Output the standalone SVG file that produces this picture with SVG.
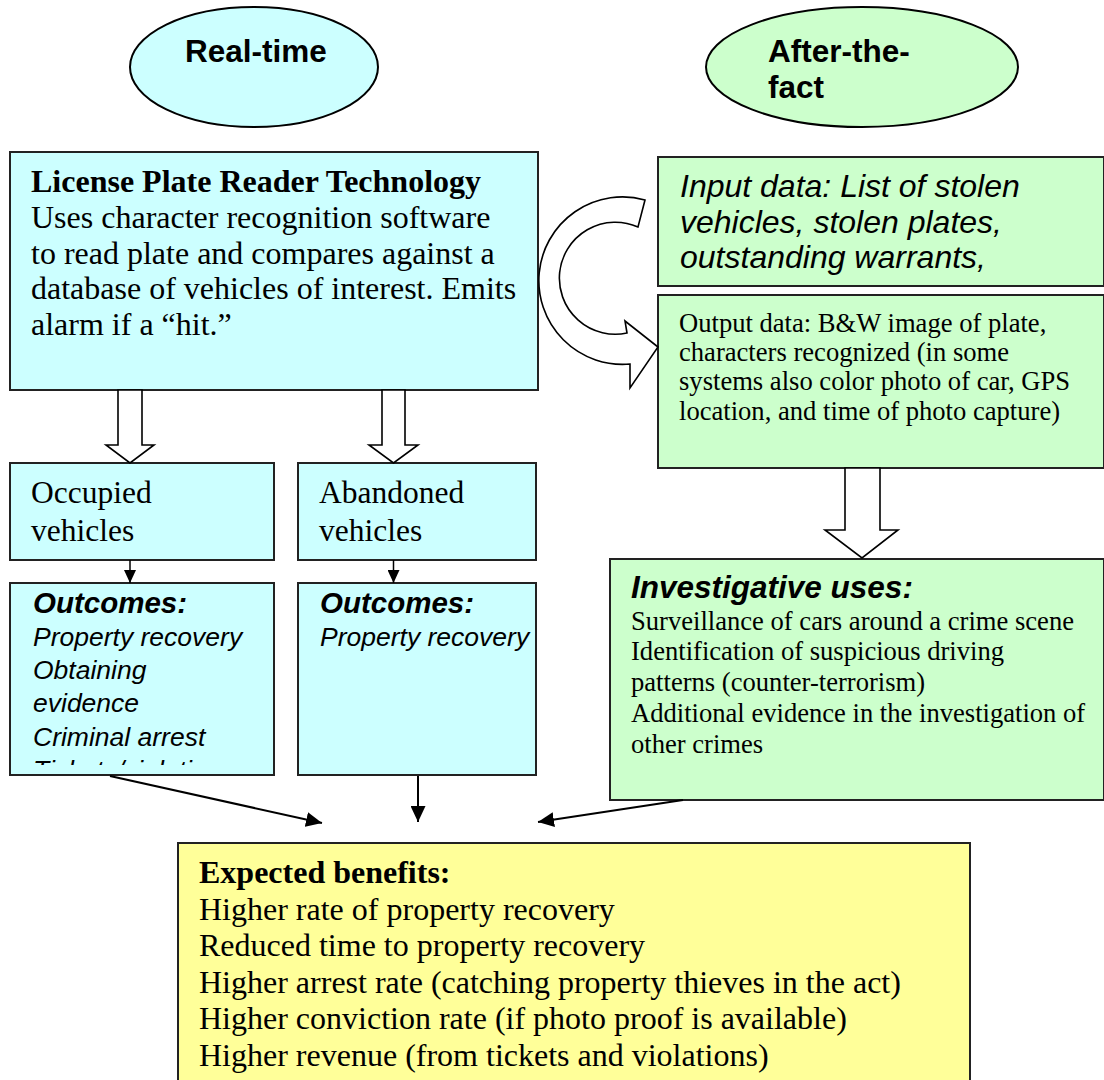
<svg xmlns="http://www.w3.org/2000/svg" width="1104" height="1080" viewBox="0 0 1104 1080">
<style>
.box{stroke:#222;stroke-width:2}
.cyan{fill:#CCFFFF}
.green{fill:#CCFFCC}
.yellow{fill:#FFFF99}
.sans{font-family:"Liberation Sans",Arial,sans-serif;fill:#000}
.serif{font-family:"Liberation Serif","Times New Roman",serif;fill:#000}
.hb{font-weight:bold;font-size:31.5px}
.ser32{font-size:32px}
.ser26{font-size:26.6px}
.ital26{font-style:italic;font-size:26.5px}
.bi{font-style:italic;font-weight:bold}
.line{stroke:#000;stroke-width:2;fill:none}
.block{fill:#fff;stroke:#000;stroke-width:1.6}
</style>
<defs>
<marker id="ah" viewBox="0 0 10 10" refX="10" refY="5" markerWidth="16" markerHeight="15" markerUnits="userSpaceOnUse" orient="auto" preserveAspectRatio="none">
<path d="M0,0 L10,5 L0,10 Z" fill="#000"/>
</marker>
<marker id="ahs" viewBox="0 0 10 10" refX="10" refY="5" markerWidth="13" markerHeight="12" markerUnits="userSpaceOnUse" orient="auto" preserveAspectRatio="none">
<path d="M0,0 L10,5 L0,10 Z" fill="#000"/>
</marker>
<clipPath id="clipIn"><rect x="658" y="157" width="446" height="119"/></clipPath>
<clipPath id="clipOut"><rect x="10" y="583" width="264" height="182"/></clipPath>
</defs>

<g id="realtime">
<ellipse cx="254" cy="67" rx="124" ry="60" class="cyan" stroke="#000" stroke-width="2"/>
<text x="185" y="62" class="sans hb">Real-time</text>
</g>

<g id="afterthefact">
<ellipse cx="862" cy="67" rx="156" ry="60" class="green" stroke="#000" stroke-width="2"/>
<text x="768" y="62" class="sans hb">After-the-</text>
<text x="768" y="98" class="sans hb">fact</text>
</g>

<g id="lpr">
<rect x="10" y="152" width="528" height="238" class="box cyan"/>
<text class="serif ser32"><tspan x="31" y="192" font-weight="bold">License Plate Reader Technology</tspan><tspan x="31" y="228">Uses character recognition software</tspan><tspan x="31" y="264">to read plate and compares against a</tspan><tspan x="31" y="299">database of vehicles of interest. Emits</tspan><tspan x="31" y="335">alarm if a “hit.”</tspan></text>
</g>

<g id="input">
<rect x="658" y="157" width="446" height="129" class="box green"/>
<g clip-path="url(#clipIn)">
<text class="sans" font-style="italic" font-size="32px"><tspan x="680" y="197">Input data: List of stolen</tspan><tspan x="680" y="233">vehicles, stolen plates,</tspan><tspan x="680" y="268">outstanding warrants,</tspan></text>
</g>
</g>

<g id="output">
<rect x="658" y="295" width="446" height="173" class="box green"/>
<text class="serif ser26"><tspan x="679" y="332">Output data: B&amp;W image of plate,</tspan><tspan x="679" y="361">characters recognized (in some</tspan><tspan x="679" y="390">systems also color photo of car, GPS</tspan><tspan x="679" y="420">location, and time of photo capture)</tspan></text>
</g>

<g id="occupied">
<rect x="10" y="463" width="264" height="97" class="box cyan"/>
<text class="serif" font-size="31.5px"><tspan x="31" y="503">Occupied</tspan><tspan x="31" y="541">vehicles</tspan></text>
</g>

<g id="abandoned">
<rect x="298" y="463" width="238" height="97" class="box cyan"/>
<text class="serif" font-size="31.5px"><tspan x="319" y="503">Abandoned</tspan><tspan x="319" y="541">vehicles</tspan></text>
</g>

<g id="outcomes-occupied">
<rect x="10" y="583" width="264" height="192" class="box cyan"/>
<g clip-path="url(#clipOut)">
<text x="33" y="613" class="sans bi" font-size="29.5px">Outcomes:</text>
<text class="sans ital26"><tspan x="33" y="646">Property recovery</tspan><tspan x="33" y="679">Obtaining</tspan><tspan x="33" y="712">evidence</tspan><tspan x="33" y="746">Criminal arrest</tspan><tspan x="33" y="779">Tickets/violations</tspan></text>
</g>
</g>

<g id="outcomes-abandoned">
<rect x="298" y="583" width="238" height="192" class="box cyan"/>
<text x="320" y="613" class="sans bi" font-size="29.5px">Outcomes:</text>
<text x="320" y="646" class="sans ital26">Property recovery</text>
</g>

<g id="investigative">
<rect x="610" y="559" width="494" height="241" class="box green"/>
<text x="631" y="598" class="sans bi" font-size="31.5px">Investigative uses:</text>
<text class="serif ser26"><tspan x="631" y="630">Surveillance of cars around a crime scene</tspan><tspan x="631" y="660">Identification of suspicious driving</tspan><tspan x="631" y="691">patterns (counter-terrorism)</tspan><tspan x="631" y="722">Additional evidence in the investigation of</tspan><tspan x="631" y="753">other crimes</tspan></text>
</g>

<g id="benefits">
<rect x="178" y="843" width="792" height="250" class="box yellow"/>
<text class="serif ser32"><tspan x="199" y="883" font-weight="bold">Expected benefits:</tspan><tspan x="199" y="920">Higher rate of property recovery</tspan><tspan x="199" y="956">Reduced time to property recovery</tspan><tspan x="199" y="993">Higher arrest rate (catching property thieves in the act)</tspan><tspan x="199" y="1029">Higher conviction rate (if photo proof is available)</tspan><tspan x="199" y="1066">Higher revenue (from tickets and violations)</tspan></text>
</g>

<g id="connectors">
<path class="block" d="M645 200 A83.7 83.7 0 1 0 630 364 L630 388 L658 347 L625 321 L627 333 A56 56 0 1 1 638 227 Z"/>
<path class="block" d="M118 390 V445 H106 L130 463 L154 445 H142 V390 Z"/>
<path class="block" d="M382 390 V445 H369 L393.5 463 L418 445 H405 V390 Z"/>
<path class="block" d="M845 468 V530 H825 L862 558 L898 530 H880 V468 Z"/>
<line x1="130" y1="560" x2="130" y2="583" stroke="#000" stroke-width="1.5" marker-end="url(#ahs)"/>
<line x1="393.5" y1="560" x2="393.5" y2="583" stroke="#000" stroke-width="1.5" marker-end="url(#ahs)"/>
<line x1="110" y1="776" x2="322" y2="823" class="line" marker-end="url(#ah)"/>
<line x1="418" y1="776" x2="418" y2="822" class="line" marker-end="url(#ah)"/>
<line x1="683" y1="800" x2="538" y2="822" class="line" marker-end="url(#ah)"/>
</g>
</svg>
